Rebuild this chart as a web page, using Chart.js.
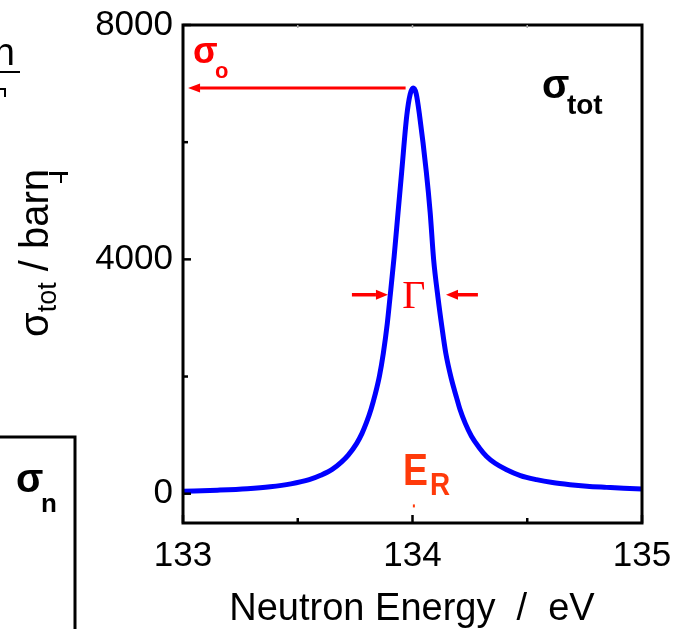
<!DOCTYPE html>
<html lang="en">
<head>
  <meta charset="UTF-8">
  <title>Total cross section - neutron resonance</title>
  <script src="https://cdn.jsdelivr.net/npm/chart.js"></script>
  <style>
    html, body { margin: 0; padding: 0; background: #fff; }
    #wrap { width: 674px; height: 629px; position: relative; }
  </style>
</head>
<body>
  <div id="wrap"><canvas id="xsChart"></canvas></div>

  <script>
    // neutron energy (eV) and total cross section (barn)
    const energy = [133.0, 133.15, 133.28, 133.38, 133.47, 133.55, 133.6, 133.65, 133.69, 133.72,
      133.757, 133.78, 133.8, 133.82, 133.837, 133.856, 133.873, 133.89, 133.902, 133.92,
      133.937, 133.953, 133.975, 133.99, 134.003, 134.016, 134.031, 134.06, 134.077, 134.092,
      134.111, 134.128, 134.145, 134.17, 134.192, 134.206, 134.23, 134.257, 134.29, 134.322,
      134.36, 134.41, 134.47, 134.54, 134.61, 134.686, 134.76, 134.846, 134.92, 135.0];
    const sigmaTot = [40, 60, 85, 118, 168, 240, 315, 415, 540, 660,
      860, 1030, 1220, 1450, 1690, 2010, 2400, 2900, 3350, 4050,
      4800, 5500, 6450, 6820, 6923, 6830, 6450, 5500, 4800, 4000,
      3350, 2850, 2400, 1950, 1640, 1450, 1200, 980, 790, 640,
      520, 410, 310, 240, 190, 154, 128, 108, 92, 80];

    const xTicks = [133, 134, 135];
    const xMinor = [133.5, 134.5];
    const yTicks = [0, 4000, 8000];
    const yMinor = [2000, 6000];

    // annotation anchors (data space)
    const sigma0Arrow = { from: 133.97, to: 133.022, level: 6923 };
    const gammaLevel = 3396;
    const gammaLeft = { from: 133.736, to: 133.893 };
    const gammaRight = { from: 134.285, to: 134.146 };

    function arrow(ctx, x1, y1, x2, y2, head, halfW, color, lw) {
      const ang = Math.atan2(y2 - y1, x2 - x1);
      const bx = x2 - Math.cos(ang) * head, by = y2 - Math.sin(ang) * head;
      ctx.strokeStyle = color;
      ctx.fillStyle = color;
      ctx.lineWidth = lw;
      ctx.beginPath();
      ctx.moveTo(x1, y1);
      ctx.lineTo(bx, by);
      ctx.stroke();
      ctx.beginPath();
      ctx.moveTo(x2, y2);
      ctx.lineTo(bx - Math.sin(ang) * halfW, by + Math.cos(ang) * halfW);
      ctx.lineTo(bx + Math.sin(ang) * halfW, by - Math.cos(ang) * halfW);
      ctx.closePath();
      ctx.fill();
    }

    // text squeezed horizontally, the figure's lettering is a bit narrow
    function narrowText(ctx, txt, x, y, sx) {
      ctx.save();
      ctx.translate(x, y);
      ctx.scale(sx, 1);
      ctx.fillText(txt, 0, 0);
      ctx.restore();
    }

    const SANS = '"Liberation Sans", Arial, sans-serif';

    const decor = {
      id: 'decor',
      afterDraw(chart) {
        const ctx = chart.ctx;
        const xs = chart.scales.x, ys = chart.scales.y;
        const a = chart.chartArea;
        const X = v => xs.getPixelForValue(v);
        const Y = v => ys.getPixelForValue(v);
        ctx.save();

        // frame
        ctx.strokeStyle = '#000';
        ctx.lineWidth = 3;
        ctx.strokeRect(a.left, a.top, a.right - a.left, a.bottom - a.top);

        // inward ticks
        ctx.lineWidth = 2.5;
        yTicks.forEach(v => { ctx.beginPath(); ctx.moveTo(a.left, Y(v)); ctx.lineTo(a.left + 8, Y(v)); ctx.stroke(); });
        yMinor.forEach(v => { ctx.beginPath(); ctx.moveTo(a.left, Y(v)); ctx.lineTo(a.left + 5, Y(v)); ctx.stroke(); });
        xTicks.forEach(v => { ctx.beginPath(); ctx.moveTo(X(v), a.bottom); ctx.lineTo(X(v), a.bottom - 8); ctx.stroke(); });
        xMinor.forEach(v => { ctx.beginPath(); ctx.moveTo(X(v), a.bottom); ctx.lineTo(X(v), a.bottom - 5); ctx.stroke(); });
        ctx.strokeStyle = '#aaa';
        ctx.lineWidth = 1.5;
        xMinor.concat([134]).forEach(v => { ctx.beginPath(); ctx.moveTo(X(v), a.top); ctx.lineTo(X(v), a.top + 3); ctx.stroke(); });

        // sigma_0 arrow + label
        arrow(ctx, X(sigma0Arrow.from), Y(sigma0Arrow.level), X(sigma0Arrow.to), Y(sigma0Arrow.level), 12, 4.5, '#ff0000', 3);
        ctx.fillStyle = '#ff0000';
        ctx.textBaseline = 'alphabetic';
        ctx.textAlign = 'left';
        ctx.font = 'bold 36px ' + SANS;
        ctx.fillText('σ', X(133.044), Y(7355));
        ctx.font = 'bold 22px ' + SANS;
        ctx.fillText('o', X(133.044) + 22, Y(7355) + 15);

        // Gamma width arrows
        arrow(ctx, X(gammaLeft.from), Y(gammaLevel), X(gammaLeft.to), Y(gammaLevel), 12, 5, '#ff0000', 3.5);
        arrow(ctx, X(gammaRight.from), Y(gammaLevel), X(gammaRight.to), Y(gammaLevel), 12, 5, '#ff0000', 3.5);
        ctx.fillStyle = '#ff0000';
        ctx.textAlign = 'center';
        ctx.font = '40px "Liberation Serif", "Times New Roman", serif';
        ctx.fillText('Γ', X(134.006), Y(3174));

        // E_R label and small marker
        ctx.fillStyle = '#ff3a0a';
        ctx.textAlign = 'left';
        ctx.font = 'bold 44px ' + SANS;
        narrowText(ctx, 'E', X(133.959), Y(154), 0.85);
        ctx.font = 'bold 32px ' + SANS;
        narrowText(ctx, 'R', X(133.959) + 27, Y(154) + 10, 0.87);
        ctx.fillRect(X(134.006) - 1, Y(-200) - 1, 2, 3);

        // sigma_tot label
        ctx.fillStyle = '#000';
        ctx.font = 'bold 40px ' + SANS;
        ctx.fillText('σ', X(134.564), Y(6758));
        ctx.font = 'bold 28px ' + SANS;
        ctx.fillText('tot', X(134.564) + 25, Y(6758) + 16);

        // x axis title
        ctx.textAlign = 'center';
        ctx.font = '38px ' + SANS;
        ctx.fillText('Neutron Energy  /  eV', 412, 620);

        // y axis title with subscript
        ctx.save();
        ctx.translate(48, 337);
        ctx.rotate(-Math.PI / 2);
        ctx.textAlign = 'left';
        ctx.font = '40px ' + SANS;
        ctx.fillText('σ', 0, 0);
        let w = ctx.measureText('σ').width;
        ctx.font = '27px ' + SANS;
        ctx.fillText('tot', w, 8);
        w += ctx.measureText('tot').width;
        ctx.font = '40px ' + SANS;
        ctx.fillText(' / barn', w, 0);
        ctx.restore();

        // remnants of the neighbouring panel
        ctx.strokeStyle = '#000';
        ctx.fillStyle = '#000';
        ctx.lineWidth = 3;
        ctx.beginPath();
        ctx.moveTo(0, 437); ctx.lineTo(75, 437); ctx.lineTo(75, 629);
        ctx.stroke();
        ctx.textAlign = 'left';
        ctx.font = 'bold 40px ' + SANS;
        ctx.fillText('σ', 16, 492);
        ctx.font = 'bold 26px ' + SANS;
        ctx.fillText('n', 41, 512);
        ctx.font = '38px ' + SANS;
        ctx.textAlign = 'right';
        ctx.fillText('n', 15, 65);
        ctx.lineWidth = 2;
        ctx.beginPath(); ctx.moveTo(0, 72); ctx.lineTo(20, 72); ctx.stroke();
        ctx.beginPath(); ctx.moveTo(0, 89); ctx.lineTo(6, 89); ctx.moveTo(5, 89); ctx.lineTo(5, 97); ctx.stroke();
        ctx.lineWidth = 3;
        ctx.beginPath(); ctx.moveTo(49, 173.5); ctx.lineTo(68, 173.5); ctx.stroke();
        ctx.lineWidth = 2;
        ctx.beginPath(); ctx.moveTo(61, 174); ctx.lineTo(61, 183); ctx.stroke();

        ctx.restore();
      }
    };

    const tickFont = { family: SANS, size: 35 };

    new Chart(document.getElementById('xsChart'), {
      type: 'line',
      data: {
        datasets: [{
          data: energy.map((e, i) => ({ x: e, y: sigmaTot[i] })),
          borderColor: '#0000ff',
          borderWidth: 5,
          pointRadius: 0,
          cubicInterpolationMode: 'monotone',
          fill: false
        }]
      },
      options: {
        responsive: true,
        maintainAspectRatio: false,
        animation: false,
        layout: { padding: { left: 0, right: 32, top: 25, bottom: 0 } },
        plugins: { legend: { display: false }, tooltip: { enabled: false } },
        scales: {
          x: {
            type: 'linear',
            min: 133,
            max: 135,
            grid: { display: false, drawTicks: false },
            border: { display: false },
            afterBuildTicks: s => { s.ticks = xTicks.map(v => ({ value: v })); },
            afterFit: s => { s.height = 106; s.paddingLeft = 0; s.paddingRight = 0; },
            ticks: { color: '#000', font: tickFont, padding: 12, maxRotation: 0, callback: v => String(v) }
          },
          y: {
            type: 'linear',
            min: -500,
            max: 8000,
            grid: { display: false, drawTicks: false },
            border: { display: false },
            afterBuildTicks: s => { s.ticks = yTicks.map(v => ({ value: v })); },
            afterFit: s => { s.width = 183; s.paddingTop = 0; s.paddingBottom = 0; },
            ticks: { color: '#000', font: tickFont, padding: 10, callback: v => String(v) }
          }
        }
      },
      plugins: [decor]
    });
  </script>
</body>
</html>
